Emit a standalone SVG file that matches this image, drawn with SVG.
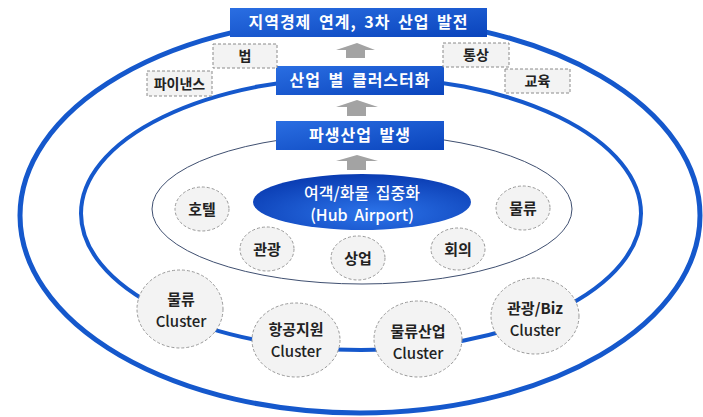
<svg xmlns="http://www.w3.org/2000/svg" width="703" height="417" viewBox="0 0 703 417">
<defs>
<linearGradient id="boxg" x1="0" y1="0" x2="1" y2="1">
<stop offset="0" stop-color="#2a6ee2"/>
<stop offset="1" stop-color="#0a44bc"/>
</linearGradient>
<radialGradient id="hubg" cx="0.55" cy="0.7" r="0.7">
<stop offset="0" stop-color="#2c74ea"/>
<stop offset="1" stop-color="#0a3cb2"/>
</radialGradient>
<style>
.ring{fill:none;stroke:#1558cc}
.box{fill:url(#boxg)}
.btxt{font-family:"Noto Sans CJK KR","Noto Sans",sans-serif;font-weight:bold;font-size:16px;fill:#fff;text-anchor:middle;letter-spacing:1px;word-spacing:3px}
.dbox{fill:#f3f3f3;stroke:#8a8a8a;stroke-width:1;stroke-dasharray:3 2}
.dtxt{font-family:"Noto Sans CJK KR","Noto Sans",sans-serif;font-weight:bold;font-size:14px;fill:#222;text-anchor:middle}
.circ{fill:#f3f3f3;stroke:#999;stroke-width:1;stroke-dasharray:3 2}
.ctxt{font-family:"Noto Sans CJK KR","Noto Sans",sans-serif;font-weight:bold;font-size:15px;fill:#222;text-anchor:middle}
.kt{font-family:"Noto Sans CJK KR","Noto Sans",sans-serif;font-weight:bold;font-size:15px;fill:#222;text-anchor:middle}
.kc{font-family:"Noto Sans CJK KR","Noto Sans",sans-serif;font-weight:500;font-size:15px;fill:#222;text-anchor:middle}
.htxt{font-family:"Noto Sans CJK KR","Noto Sans",sans-serif;font-weight:500;font-size:16px;fill:#fff;text-anchor:middle;word-spacing:3px}
.arrow{fill:#a3a3a3}
</style>
</defs>
<rect width="703" height="417" fill="#fff"/>
<g id="rings">
<ellipse class="ring" cx="360" cy="215.5" rx="340" ry="197.5" stroke-width="5"/>
<ellipse class="ring" cx="361" cy="213.5" rx="280" ry="136.5" stroke-width="4"/>
<ellipse cx="362" cy="209" rx="210" ry="75" fill="none" stroke="#3f4f70" stroke-width="1"/>
</g>
<g id="connectors">
<polygon class="arrow" points="357,43 375,50 365,50 365,58 346,58 346,50 336,50"/>
<polygon class="arrow" points="357,100 378,107 366,107 366,116 347,116 347,107 336,107"/>
<polygon class="arrow" points="357,155 378,161 366,161 366,170 347,170 347,161 336,161"/>
</g>
<g id="n_top">
<rect class="box" x="230" y="8" width="257" height="29"/>
<text class="btxt" x="358.5" y="28">지역경제 연계, 3차 산업 발전</text>
</g>
<g id="n_cluster">
<rect class="box" x="276" y="66" width="168" height="29"/>
<text class="btxt" x="360" y="86">산업 별 클러스터화</text>
</g>
<g id="n_derived">
<rect class="box" x="276" y="121" width="168" height="29"/>
<text class="btxt" x="360" y="141">파생산업 발생</text>
</g>
<g id="n_law">
<rect class="dbox" x="213" y="44" width="64" height="24"/>
<text class="dtxt" x="245" y="61">법</text>
</g>
<g id="n_finance">
<rect class="dbox" x="147" y="71" width="65" height="25"/>
<text class="dtxt" x="179.5" y="88.5">파이낸스</text>
</g>
<g id="n_trade">
<rect class="dbox" x="443" y="43" width="66" height="24"/>
<text class="dtxt" x="476" y="60">통상</text>
</g>
<g id="n_edu">
<rect class="dbox" x="505" y="69" width="65" height="24"/>
<text class="dtxt" x="537.5" y="86">교육</text>
</g>
<g id="n_hub">
<ellipse cx="362" cy="202" rx="109" ry="28" fill="url(#hubg)"/>
<text class="htxt" x="362" y="199">여객/화물 집중화</text>
<text class="htxt" x="362" y="221">(Hub Airport)</text>
</g>
<g id="n_hotel">
<ellipse class="circ" cx="202" cy="209" rx="27" ry="22"/>
<text class="ctxt" x="202" y="215">호텔</text>
</g>
<g id="n_tour">
<ellipse class="circ" cx="267" cy="249" rx="27" ry="22"/>
<text class="ctxt" x="267" y="255">관광</text>
</g>
<g id="n_commerce">
<ellipse class="circ" cx="358" cy="258" rx="27" ry="22"/>
<text class="ctxt" x="358" y="264">상업</text>
</g>
<g id="n_meeting">
<ellipse class="circ" cx="458" cy="249" rx="27" ry="21"/>
<text class="ctxt" x="458" y="255">회의</text>
</g>
<g id="n_logistics">
<ellipse class="circ" cx="523" cy="208" rx="27" ry="22"/>
<text class="ctxt" x="523" y="214">물류</text>
</g>
<g id="n_c_logistics">
<ellipse class="circ" cx="180" cy="309" rx="43" ry="39"/>
<text class="kt" x="181" y="305">물류</text>
<text class="kc" x="181" y="327">Cluster</text>
</g>
<g id="n_c_aviation">
<ellipse class="circ" cx="296" cy="340" rx="44" ry="37"/>
<text class="kt" x="296" y="335">항공지원</text>
<text class="kc" x="296" y="357">Cluster</text>
</g>
<g id="n_c_logind">
<ellipse class="circ" cx="418" cy="339" rx="44" ry="38"/>
<text class="kt" x="418" y="337">물류산업</text>
<text class="kc" x="418" y="359">Cluster</text>
</g>
<g id="n_c_tourbiz">
<ellipse class="circ" cx="535" cy="316" rx="44" ry="38"/>
<text class="kt" x="535" y="314">관광/Biz</text>
<text class="kc" x="535" y="336">Cluster</text>
</g>
</svg>
